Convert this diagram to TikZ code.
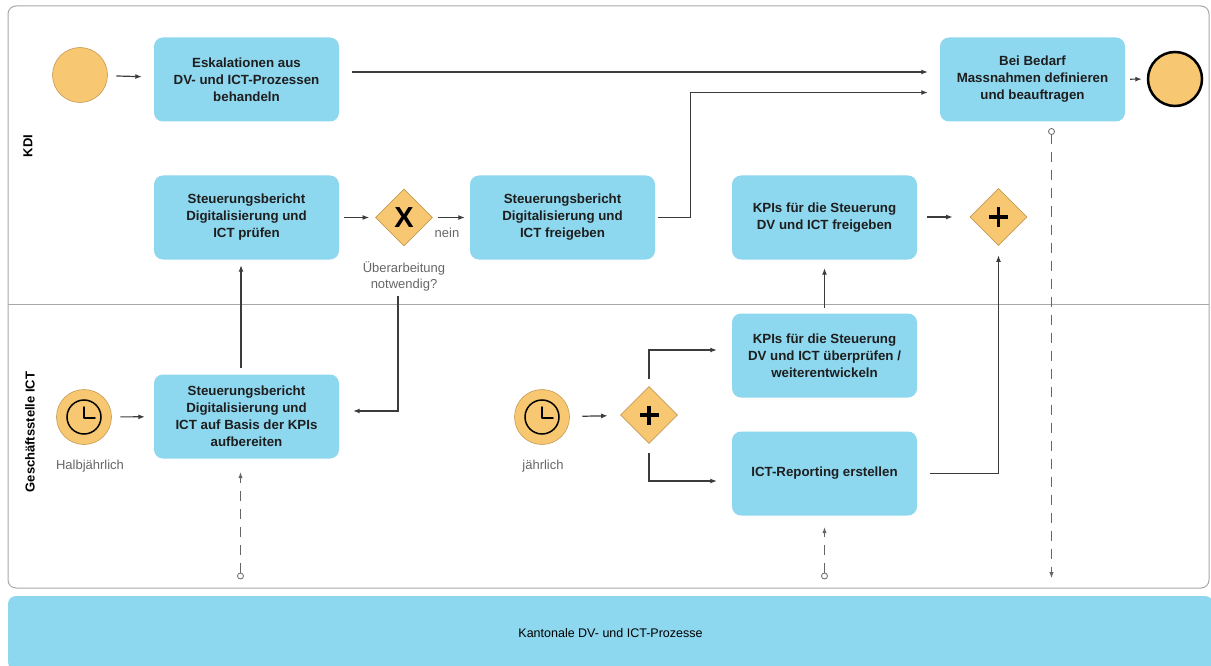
\documentclass[tikz,border=0pt]{standalone}
\usepackage{fontspec}
\setmainfont{Liberation Sans}
\usetikzlibrary{shapes.geometric,arrows.meta}
\definecolor{taskblue}{HTML}{8DD7EF}
\definecolor{evorange}{HTML}{F8C771}
\definecolor{gwborder}{HTML}{C49A55}
\definecolor{linegray}{HTML}{3C3C3C}
\definecolor{lanegray}{HTML}{A8A8A8}
\definecolor{labelgray}{HTML}{666666}
\definecolor{tasktext}{HTML}{1E1E1E}
\begin{document}
\begin{tikzpicture}[x=1pt,y=-1pt,
 task/.style={rectangle,rounded corners=9pt,fill=taskblue,minimum width=185pt,minimum height=84pt,inner sep=0pt,align=center,text=tasktext,font=\fontsize{13.3}{17}\selectfont\bfseries},
 gate/.style={diamond,aspect=1,fill=evorange,draw=gwborder,line width=0.8pt,minimum width=57pt,minimum height=57pt,inner sep=0pt},
 startev/.style={circle,fill=evorange,draw=gwborder,line width=0.6pt,minimum size=55pt,inner sep=0pt},
 flow/.style={draw=linegray,line width=1.2pt,-{Latex[length=6.5pt,width=5pt]}},
 assoc/.style={draw=labelgray,line width=0.9pt,dash pattern=on 10pt off 8pt,-{Latex[length=6pt,width=4.5pt]}},
 glabel/.style={font=\fontsize{13}{16}\selectfont,text=labelgray,align=center,inner sep=0pt},
 lanelabel/.style={rotate=90,font=\fontsize{13}{13}\selectfont\bfseries,inner sep=0pt},
 clockhand/.style={line width=1.5pt,line cap=round,line join=round},
 plussign/.style={line width=3.5pt}
]
\useasboundingbox (0,0) rectangle (1211,666);
% pool and lanes
\draw[lanegray,line width=1pt,rounded corners=8pt] (8,6) rectangle (1209,588);
\draw[lanegray,line width=1pt] (8,304) -- (1209,304);
\node[lanelabel] (kdi) at (28,146) {KDI};
\node[lanelabel] (gst) at (30,432) {Geschäftsstelle ICT};
% bottom band
\node[fill=taskblue,rounded corners=8pt,minimum width=1205pt,minimum height=74pt,inner sep=0pt,font=\fontsize{12.5}{14}\selectfont] (band) at (610.5,633) {Kantonale DV- und ICT-Prozesse};

% events
\node[startev] (s1) at (80,75) {};
\node[circle,fill=evorange,draw=black,line width=2.5pt,minimum size=54pt,inner sep=0pt] (e1) at (1175,79) {};
\node[startev] (tm1) at (84,417) {};
\draw[line width=1.5pt] (tm1.center) circle (17);
\draw[clockhand] (84,407) -- (84,418) -- (95,418);
\node[startev] (tm2) at (542,417) {};
\draw[line width=1.5pt] (tm2.center) circle (17);
\draw[clockhand] (542,407) -- (542,418) -- (553,418);

% tasks
\node[task] (t1) at (246.5,79.5) {Eskalationen aus\\DV- und ICT-Prozessen\\behandeln};
\node[task] (t2) at (1032.5,79.5) {Bei Bedarf\\Massnahmen definieren\\und beauftragen};
\node[task] (t3) at (246.5,217.5) {Steuerungsbericht\\Digitalisierung und\\ICT prüfen};
\node[task] (t4) at (562.5,217.5) {Steuerungsbericht\\Digitalisierung und\\ICT freigeben};
\node[task] (t5) at (824.5,217.5) {KPIs für die Steuerung\\DV und ICT freigeben};
\node[task] (t6) at (824.5,355.5) {KPIs für die Steuerung\\DV und ICT überprüfen /\\weiterentwickeln};
\node[task] (t7) at (824.5,473.5) {ICT-Reporting erstellen};
\node[task] (t8) at (246.5,416.5) {Steuerungsbericht\\Digitalisierung und\\ICT auf Basis der KPIs\\aufbereiten};

% gateways
\node[gate,font=\fontsize{29}{29}\selectfont\bfseries] (g1) at (404,217.5) {X};
\node[gate] (g2) at (998.5,217) {};
\draw[plussign] ([xshift=-9.5pt]g2.center) -- ([xshift=9.5pt]g2.center);
\draw[plussign] ([yshift=-9.5pt]g2.center) -- ([yshift=9.5pt]g2.center);
\node[gate] (g3) at (649,415) {};
\draw[plussign] ([xshift=-9.5pt]g3.center) -- ([xshift=9.5pt]g3.center);
\draw[plussign] ([yshift=-9.5pt]g3.center) -- ([yshift=9.5pt]g3.center);

% labels
\node[glabel] (nein) at (447,233) {nein};
\node[glabel] (q) at (404,276) {Überarbeitung\\notwendig?};
\node[glabel] (l1) at (90,466) {Halbjährlich};
\node[glabel] (l2) at (543,466) {jährlich};

% sequence flows
\draw[flow,shorten <=8.5pt,shorten >=12pt] (s1) -- (t1);
\draw[flow,shorten <=13pt,shorten >=12pt] ([yshift=7.5pt]t1.east) -- ([yshift=7.5pt]t2.west);
\draw[flow,shorten >=12pt] ([xshift=3pt]t4.east) -- ++(32,0) |- ([yshift=-13pt]t2.west);
\draw[flow,shorten <=5pt,shorten >=5pt] (t2) -- (e1);
\draw[flow,shorten <=5pt,shorten >=6pt] (t3) -- (g1);
\draw[flow,shorten <=5pt,shorten >=5pt] (g1) -- (t4);
\draw[flow,shorten >=14pt] ([xshift=-6pt,yshift=-5pt]q.south) |- ([yshift=5.5pt]t8.east);
\draw[flow,shorten <=6.5pt,shorten >=5.5pt] ([xshift=-5.5pt]t8.north) -- ([xshift=-5.5pt]t3.south);
\draw[flow,shorten <=8.5pt,shorten >=9pt] (tm1) -- (t8);
\draw[flow,shorten <=12.5pt,shorten >=13pt] (tm2) -- (g3);
\draw[flow,shorten <=7pt,shorten >=15pt] (g3.north) |- ([yshift=5.5pt]t6.west);
\draw[flow,shorten <=9pt,shorten >=15pt] (g3.south) |- ([yshift=-7.5pt]t7.west);
\draw[flow,shorten <=5.5pt,shorten >=8.5pt] (t6) -- (t5);
\draw[flow,shorten <=10pt,shorten >=17pt] (t5.east |- g2) -- (g2.west);
\draw[flow,shorten <=13pt,shorten >=9.5pt] (t7.east) -| (g2.south);

% associations
\coordinate (d1) at (240.5,576);
\coordinate (d2) at (824.5,576);
\coordinate (d3) at (1051.5,131.5);
\coordinate (d4) at (1051.5,578);
\draw[assoc,shorten <=3pt,shorten >=13.5pt] (d1) -- (d1 |- t8.south);
\draw[assoc,shorten <=3pt,shorten >=11.5pt] (d2) -- (d2 |- t7.south);
\draw[assoc,shorten <=3pt] (d3) -- (d4);
\draw[labelgray,fill=white,line width=0.8pt] (d1) circle (3);
\draw[labelgray,fill=white,line width=0.8pt] (d2) circle (3);
\draw[labelgray,fill=white,line width=0.8pt] (d3) circle (3);
\end{tikzpicture}
\end{document}
